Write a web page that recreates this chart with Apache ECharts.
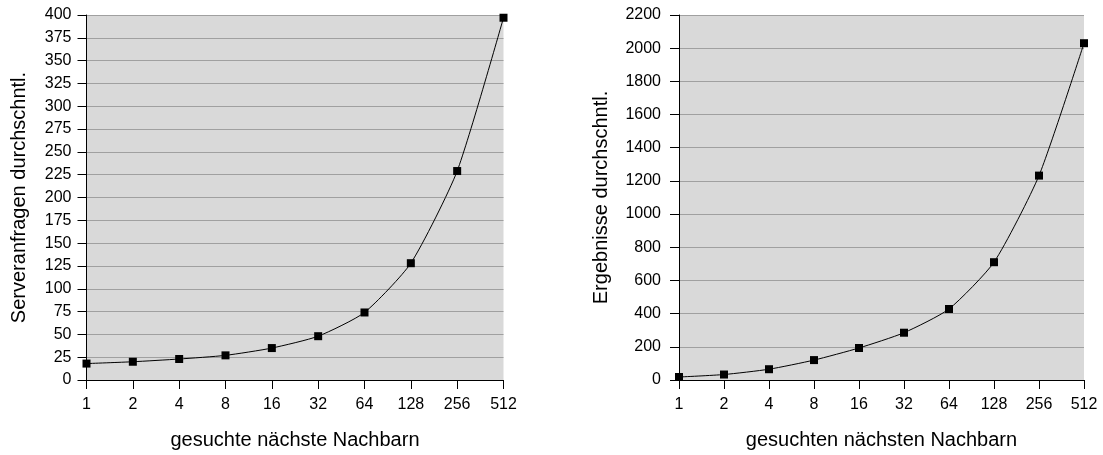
<!DOCTYPE html>
<html>
<head>
<meta charset="utf-8">
<script src="https://cdn.jsdelivr.net/npm/echarts@6/dist/echarts.min.js"></script>
<style>
  html, body { margin: 0; padding: 0; background: #fff; }
  #chart { width: 1103px; height: 455px; }
</style>
</head>
<body>
<div id="chart"></div>
<script>
const categories = ['1', '2', '4', '8', '16', '32', '64', '128', '256', '512']
// Serveranfragen durchschnittlich
const serverRequests = [18, 20, 23, 27, 35, 48, 74, 128, 229, 397]
// Ergebnisse durchschnittlich
const resultsAvg = [18, 33, 65, 120, 193, 285, 428, 710, 1232, 2030]

const font = 'Liberation Sans, Arial, sans-serif'

function xAxisFor(gridIndex, name) {
  return {
    type: 'category',
    gridIndex,
    data: categories,
    boundaryGap: false,
    name,
    nameLocation: 'middle',
    nameGap: 50,
    nameTextStyle: { color: '#000', fontSize: 20, fontFamily: font },
    axisLine: { lineStyle: { color: '#000', width: 1 } },
    axisTick: { show: true, length: 9, inside: false, lineStyle: { color: '#000' } },
    axisLabel: { color: '#000', fontSize: 16, fontFamily: font, margin: 17 },
    splitLine: { show: false }
  }
}

function yAxisFor(gridIndex, name, max, interval, nameGap, labelMargin) {
  return {
    type: 'value',
    gridIndex,
    min: 0,
    max,
    interval,
    name,
    nameLocation: 'middle',
    nameGap,
    nameTextStyle: { color: '#000', fontSize: 20, fontFamily: font },
    axisLine: { show: true, lineStyle: { color: '#000', width: 1 } },
    axisTick: { show: true, length: 9, lineStyle: { color: '#000' } },
    axisLabel: {
      color: '#000', fontSize: 16, fontFamily: font, margin: labelMargin,
      formatter: v => String(v)
    },
    splitLine: { show: true, lineStyle: { color: '#a0a0a0', width: 1 } }
  }
}

function seriesFor(index, data) {
  return {
    type: 'line',
    xAxisIndex: index,
    yAxisIndex: index,
    data,
    symbol: 'rect',
    symbolSize: 8,
    showSymbol: true,
    smooth: 0.2,
    lineStyle: { color: '#000', width: 1 },
    itemStyle: { color: '#000' },
    animation: false
  }
}

const chart = echarts.init(document.getElementById('chart'))
chart.setOption({
  backgroundColor: '#fff',
  grid: [
    { left: 86.5, right: 599.5, top: 15, bottom: 73.5, show: true, backgroundColor: '#d9d9d9', borderWidth: 0 },
    { left: 679, right: 19, top: 15, bottom: 73.5, show: true, backgroundColor: '#d9d9d9', borderWidth: 0 }
  ],
  xAxis: [
    xAxisFor(0, 'gesuchte nächste Nachbarn'),
    xAxisFor(1, 'gesuchten nächsten Nachbarn')
  ],
  yAxis: [
    yAxisFor(0, 'Serveranfragen durchschntl.', 400, 25, 57, 15),
    yAxisFor(1, 'Ergebnisse durchschntl.', 2200, 200, 68, 18)
  ],
  series: [
    seriesFor(0, serverRequests),
    seriesFor(1, resultsAvg)
  ]
})
</script>
</body>
</html>
